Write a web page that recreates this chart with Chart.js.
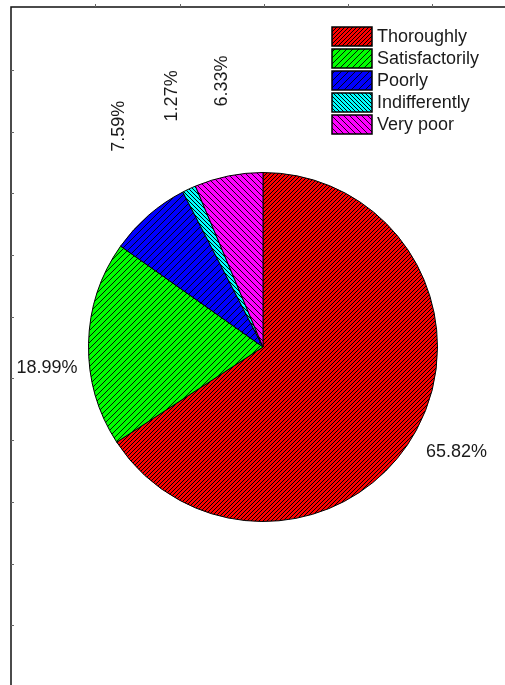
<!DOCTYPE html>
<html>
<head>
<meta charset="utf-8">
<script src="https://cdn.jsdelivr.net/npm/chart.js@4.4.1/dist/chart.umd.min.js"></script>
<style>
  html, body { margin: 0; padding: 0; background: #ffffff; }
  #wrap { width: 505px; height: 685px; }
</style>
</head>
<body>
<div id="wrap"><canvas id="chartPie"></canvas></div>
<script>
// Dados
var categories = ['Thoroughly', 'Satisfactorily', 'Poorly', 'Indifferently', 'Very poor'];
var percentages = [65.82, 18.99, 7.59, 1.27, 6.33];
var sliceColors = ['#ff0000', '#00ff00', '#0000ff', '#00ffff', '#ff00ff'];
// hachuras: direcao e passo
var hatchDir = ['/', '/', '/', '\\', '\\'];
var hatchStep = [4, 6, 7, 4, 6];

Chart.defaults.font.family = "'Liberation Sans', Arial, sans-serif";
Chart.defaults.color = '#1a1a1a';

function makeHatch(color, step, dir, lw) {
    var c = document.createElement('canvas');
    var n = step * 4;
    c.width = n;
    c.height = n;
    var g = c.getContext('2d');
    g.fillStyle = color;
    g.fillRect(0, 0, n, n);
    g.strokeStyle = '#000000';
    g.lineWidth = lw;
    g.beginPath();
    for (var k = -n; k <= 2 * n; k += step) {
        if (dir === '/') {
            g.moveTo(k - n, n);
            g.lineTo(k + n, -n);
        } else {
            g.moveTo(k - n, -n);
            g.lineTo(k + n, n);
        }
    }
    g.stroke();
    return g.createPattern(c, 'repeat');
}

var fills = sliceColors.map(function(col, i) {
    return makeHatch(col, hatchStep[i], hatchDir[i], hatchStep[i] <= 4 ? 1.0 : 0.9);
});

// moldura com marcas
var framePlugin = {
    id: 'frame',
    beforeDraw: function(chart) {
        var ctx = chart.ctx;
        ctx.save();
        ctx.strokeStyle = '#111111';
        ctx.lineWidth = 1.5;
        ctx.beginPath();
        ctx.moveTo(11, chart.height);
        ctx.lineTo(11, 7);
        ctx.lineTo(chart.width, 7);
        ctx.stroke();
        ctx.strokeStyle = '#666666';
        ctx.lineWidth = 1;
        ctx.beginPath();
        for (var x = 11 + 84.25; x < chart.width; x += 84.25) {
            ctx.moveTo(Math.round(x) + 0.5, 4);
            ctx.lineTo(Math.round(x) + 0.5, 7);
        }
        for (var y = 8.3 + 61.7; y < chart.height; y += 61.7) {
            ctx.moveTo(11, Math.round(y) + 0.5);
            ctx.lineTo(14, Math.round(y) + 0.5);
        }
        ctx.stroke();
        ctx.restore();
    }
};

// rótulos de porcentagem e legenda
var labelPlugin = {
    id: 'pieLabels',
    afterDatasetsDraw: function(chart) {
        var ctx = chart.ctx;
        var meta = chart.getDatasetMeta(0);
        ctx.save();
        ctx.font = "18px 'Liberation Sans', Arial, sans-serif";
        ctx.fillStyle = '#1a1a1a';
        meta.data.forEach(function(arc, i) {
            var p = arc.getProps(['x', 'y', 'startAngle', 'endAngle', 'outerRadius'], true);
            var mid = (p.startAngle + p.endAngle) / 2;
            var txt = percentages[i].toFixed(2) + '%';
            if (percentages[i] >= 10) {
                var ax = p.x + Math.cos(mid) * (p.outerRadius + 11);
                var ay = p.y + Math.sin(mid) * (p.outerRadius + 11);
                var left = Math.cos(mid) < 0;
                ctx.textAlign = left ? 'right' : 'left';
                ctx.textBaseline = 'top';
                ctx.fillText(txt, ax, ay + (left ? 16 : 8));
            } else {
                // rótulos verticais: ângulo levemente comprimido para o topo
                var top = Math.PI * 1.5;
                var ang = top - (top - mid) * 0.9;
                var bx = p.x + Math.cos(ang) * p.outerRadius * 1.40;
                var by = p.y + Math.sin(ang) * p.outerRadius * 1.40;
                ctx.save();
                ctx.translate(bx, by);
                ctx.rotate(-Math.PI / 2);
                ctx.textAlign = 'left';
                ctx.textBaseline = 'middle';
                ctx.fillText(txt, 0, 3);
                ctx.restore();
            }
        });

        // legenda
        var lx = 332, ly = 27;
        categories.forEach(function(name, i) {
            var y = ly + i * 22;
            ctx.fillStyle = fills[i];
            ctx.fillRect(lx, y, 40, 19);
            ctx.strokeStyle = '#000000';
            ctx.lineWidth = 1.5;
            ctx.strokeRect(lx, y, 40, 19);
            ctx.fillStyle = '#1a1a1a';
            ctx.textAlign = 'left';
            ctx.textBaseline = 'middle';
            ctx.fillText(name, lx + 45, y + 10);
        });
        ctx.restore();
    }
};

new Chart(document.getElementById('chartPie').getContext('2d'), {
    type: 'pie',
    data: {
        labels: categories,
        datasets: [{
            data: percentages,
            backgroundColor: fills,
            borderColor: '#000000',
            borderWidth: 1
        }]
    },
    options: {
        responsive: true,
        maintainAspectRatio: false,
        animation: false,
        events: [],
        layout: {
            padding: { left: 88, right: 67, top: 172, bottom: 163 }
        },
        plugins: {
            legend: { display: false },
            tooltip: { enabled: false }
        }
    },
    plugins: [framePlugin, labelPlugin]
});
</script>
</body>
</html>
